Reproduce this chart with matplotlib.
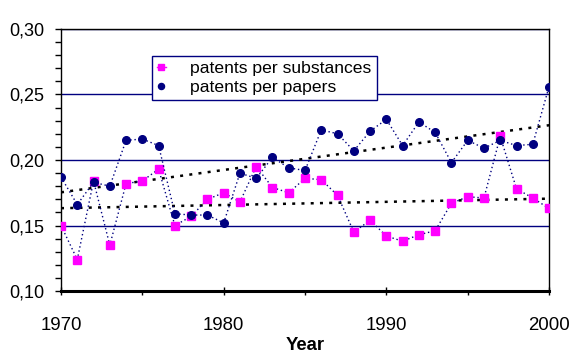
import numpy as np
import matplotlib.pyplot as plt
from matplotlib.ticker import MultipleLocator, FuncFormatter

plt.rcParams['font.family'] = ['Liberation Sans', 'DejaVu Sans']

years = list(range(1970, 2001))
per_substances = [0.150, 0.124, 0.184, 0.135, 0.182, 0.184, 0.193, 0.150, 0.157, 0.170,
                  0.175, 0.168, 0.195, 0.179, 0.175, 0.186, 0.185, 0.173, 0.145, 0.154,
                  0.142, 0.138, 0.143, 0.146, 0.167, 0.172, 0.171, 0.218, 0.178, 0.171,
                  0.163]
per_papers = [0.187, 0.166, 0.183, 0.180, 0.215, 0.216, 0.211, 0.159, 0.158, 0.158,
              0.152, 0.190, 0.186, 0.202, 0.194, 0.192, 0.223, 0.220, 0.207, 0.222,
              0.231, 0.211, 0.229, 0.221, 0.198, 0.215, 0.209, 0.215, 0.211, 0.212,
              0.256]

navy = '#000080'
magenta = '#ff00ff'

fig = plt.figure(figsize=(5.81, 3.62), dpi=100)
ax = fig.add_axes([0.105, 0.196, 0.84, 0.724])

x = np.array(years)
# linear trend lines
for s in (per_substances, per_papers):
    k, b = np.polyfit(x, s, 1)
    ax.plot(x, k * x + b, color='black', lw=1.8, ls=(0, (1.2, 2.5)), zorder=2)

ax.plot(years, per_substances, color=navy, lw=1, ls=(0, (1, 2)), marker='s',
        ms=6, mfc=magenta, mec=magenta, zorder=3, label='patents per substances')
ax.plot(years, per_papers, color=navy, lw=1, ls=(0, (1, 2)), marker='o',
        ms=5.5, mfc=navy, mec=navy, zorder=4, label='patents per papers')

ax.set_xlim(1970, 2000)
ax.set_ylim(0.10, 0.30)
ax.yaxis.set_major_locator(MultipleLocator(0.05))
ax.yaxis.set_minor_locator(MultipleLocator(0.01))
ax.xaxis.set_major_locator(MultipleLocator(10))
ax.xaxis.set_minor_locator(MultipleLocator(5))
ax.yaxis.set_major_formatter(FuncFormatter(lambda v, p: f'{v:.2f}'.replace('.', ',')))
ax.grid(axis='y', which='major', color=navy, lw=1)
ax.set_axisbelow(True)

ax.tick_params(axis='y', which='both', direction='out', length=4.3, width=1, labelsize=13, pad=8)
ax.tick_params(axis='x', which='major', direction='inout', length=6, width=1, labelsize=13.4, pad=16)
ax.tick_params(axis='x', which='minor', direction='out', length=3, width=1)
for sp in ax.spines.values():
    sp.set_color('black')
    sp.set_linewidth(1)
ax.spines['bottom'].set_linewidth(2.2)

ax.set_xlabel('Year', fontsize=13.3, fontweight='bold', labelpad=1.5)

leg = ax.legend(loc='upper left', bbox_to_anchor=(0.186, 0.897), borderaxespad=0,
                fontsize=12.6, frameon=True, fancybox=False, handlelength=0.5,
                handletextpad=1.4, borderpad=0.3, labelspacing=0.2, markerscale=0.8)
leg.get_frame().set_edgecolor(navy)
leg.get_frame().set_linewidth(1)
leg.get_frame().set_facecolor('white')
leg.get_frame().set_alpha(1)
leg.set_zorder(5)
for h in leg.get_lines():
    h.set_linestyle('-')
    h.set_linewidth(1)
    h.set_color(magenta)
leg.get_lines()[1].set_linestyle('none')

fig.savefig('out.png', dpi=100)
